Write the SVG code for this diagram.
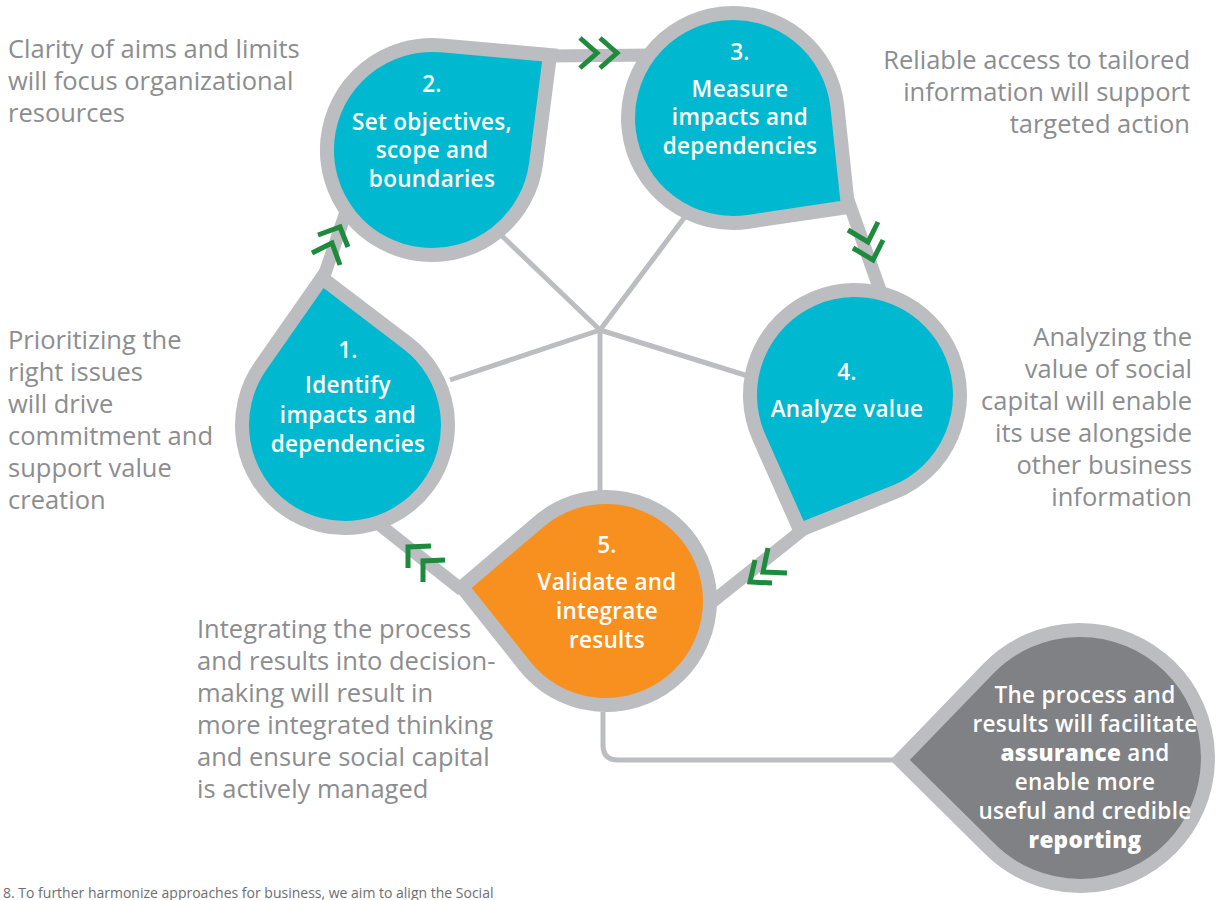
<svg xmlns="http://www.w3.org/2000/svg" width="1224" height="900" viewBox="0 0 1224 900">
<style>
.ring{stroke:#bcbdc0;stroke-width:13;fill:none;stroke-linecap:butt}
.spoke{stroke:#bcbdc0;stroke-width:5;fill:none}
.drop{stroke:#bcbdc0;stroke-width:14;stroke-linejoin:miter;stroke-miterlimit:10}
.teal{fill:#00b9d0}
.orange{fill:#f7901e}
.grey{fill:#808184}
.chev{stroke:#1e8a3e;stroke-width:5;fill:none;stroke-linecap:butt;stroke-linejoin:miter}
.nt{font-family:"Open Sans",Lato,sans-serif;font-weight:600;font-size:22.5px;letter-spacing:0.3px;fill:#ffffff;text-anchor:middle}
.side{font-family:"Open Sans",Lato,sans-serif;font-size:25.5px;fill:#8c8d8f}
.r{text-anchor:end}
.b{font-weight:800}
</style>
<rect width="1224" height="900" fill="#ffffff"/>
<g id="connectors">
<line class="ring" x1="548" y1="56" x2="655" y2="55"/>
<line class="ring" x1="848" y1="200" x2="880" y2="290"/>
<line class="ring" x1="805" y1="528" x2="712" y2="602"/>
<line class="ring" x1="462" y1="590" x2="380" y2="525"/>
<line class="ring" x1="322" y1="282" x2="350" y2="200"/>
<line class="spoke" x1="600" y1="330" x2="450" y2="380"/>
<line class="spoke" x1="600" y1="330" x2="500" y2="234"/>
<line class="spoke" x1="600" y1="330" x2="690" y2="210"/>
<line class="spoke" x1="600" y1="330" x2="748" y2="376"/>
<line class="spoke" x1="600" y1="330" x2="600" y2="492"/>
<path class="spoke" d="M603 712 L603 745 Q603 760 618 760 L905 760"/>
<polyline class="chev" points="580,38 597,53 580,68"/>
<polyline class="chev" points="600,38 617,53 600,68"/>
<polyline class="chev" points="848,230 868,242 878,222"/>
<polyline class="chev" points="853,248 873,260 883,240"/>
<polyline class="chev" points="768,548 763,572 787,573"/>
<polyline class="chev" points="755,560 750,582 772,583"/>
<polyline class="chev" points="408,568 408,547 431,546"/>
<polyline class="chev" points="423,582 423,561 445,560"/>
<polyline class="chev" points="318,235 340,227 348,247"/>
<polyline class="chev" points="312,253 332,243 340,265"/>
</g>
<g id="node1">
<path class="drop teal" d="M322 278 L407.4 343.1 A103 103 0 1 1 260.5 366.1 Z"/>
<text class="nt" x="348" y="358">1.</text>
<text class="nt" x="348" y="393">Identify</text>
<text class="nt" x="348" y="423">impacts and</text>
<text class="nt" x="348" y="452">dependencies</text>
</g>
<g id="node2">
<path class="drop teal" d="M550 55 L536.1 163.3 A105 105 0 1 1 441.3 45.4 Z"/>
<text class="nt" x="432" y="92">2.</text>
<text class="nt" x="432" y="130">Set objectives,</text>
<text class="nt" x="432" y="158">scope and</text>
<text class="nt" x="432" y="187">boundaries</text>
</g>
<g id="node3">
<path class="drop teal" d="M848 207 L748.5 221.8 A105 105 0 1 1 837.4 106.8 Z"/>
<text class="nt" x="740" y="60">3.</text>
<text class="nt" x="740" y="97">Measure</text>
<text class="nt" x="740" y="125">impacts and</text>
<text class="nt" x="740" y="154">dependencies</text>
</g>
<g id="node4">
<path class="drop teal" d="M800 530 L759 437.6 A105 105 0 1 1 893.8 492.6 Z"/>
<text class="nt" x="847" y="380">4.</text>
<text class="nt" x="847" y="417">Analyze value</text>
</g>
<g id="node5">
<path class="drop orange" d="M462 587 L538.6 521.8 A104 104 0 1 1 524.5 665.6 Z"/>
<text class="nt" x="607" y="553">5.</text>
<text class="nt" x="607" y="590">Validate and</text>
<text class="nt" x="607" y="619">integrate</text>
<text class="nt" x="607" y="648">results</text>
</g>
<g id="node6">
<path class="drop grey" d="M900 760 L988.1 668.8 A128 128 0 1 1 990 849 Z"/>
<text class="nt" x="1085" y="703">The process and</text>
<text class="nt" x="1085" y="732">results will facilitate</text>
<text class="nt" x="1085" y="761"><tspan class="b">assurance</tspan> and</text>
<text class="nt" x="1085" y="790">enable more</text>
<text class="nt" x="1085" y="819">useful and credible</text>
<text class="nt" x="1085" y="848"><tspan class="b">reporting</tspan></text>
</g>
<g id="texts">
<text class="side" x="8" y="58">Clarity of aims and limits</text>
<text class="side" x="8" y="90">will focus organizational</text>
<text class="side" x="8" y="122">resources</text>
<text class="side" x="8" y="349">Prioritizing the</text>
<text class="side" x="8" y="381">right issues</text>
<text class="side" x="8" y="413">will drive</text>
<text class="side" x="8" y="445">commitment and</text>
<text class="side" x="8" y="477">support value</text>
<text class="side" x="8" y="509">creation</text>
<text class="side r" x="1190" y="69">Reliable access to tailored</text>
<text class="side r" x="1190" y="101">information will support</text>
<text class="side r" x="1190" y="133">targeted action</text>
<text class="side r" x="1192" y="346">Analyzing the</text>
<text class="side r" x="1192" y="378">value of social</text>
<text class="side r" x="1192" y="410">capital will enable</text>
<text class="side r" x="1192" y="442">its use alongside</text>
<text class="side r" x="1192" y="474">other business</text>
<text class="side r" x="1192" y="506">information</text>
<text class="side" x="197" y="638">Integrating the process</text>
<text class="side" x="197" y="670">and results into decision-</text>
<text class="side" x="197" y="702">making will result in</text>
<text class="side" x="197" y="734">more integrated thinking</text>
<text class="side" x="197" y="766">and ensure social capital</text>
<text class="side" x="197" y="798">is actively managed</text>
<text x="3" y="898" style="font-family:'Open Sans',Lato,sans-serif;font-size:14px;fill:#6d6e71">8. To further harmonize approaches for business, we aim to align the Social</text>
</g>
</svg>
